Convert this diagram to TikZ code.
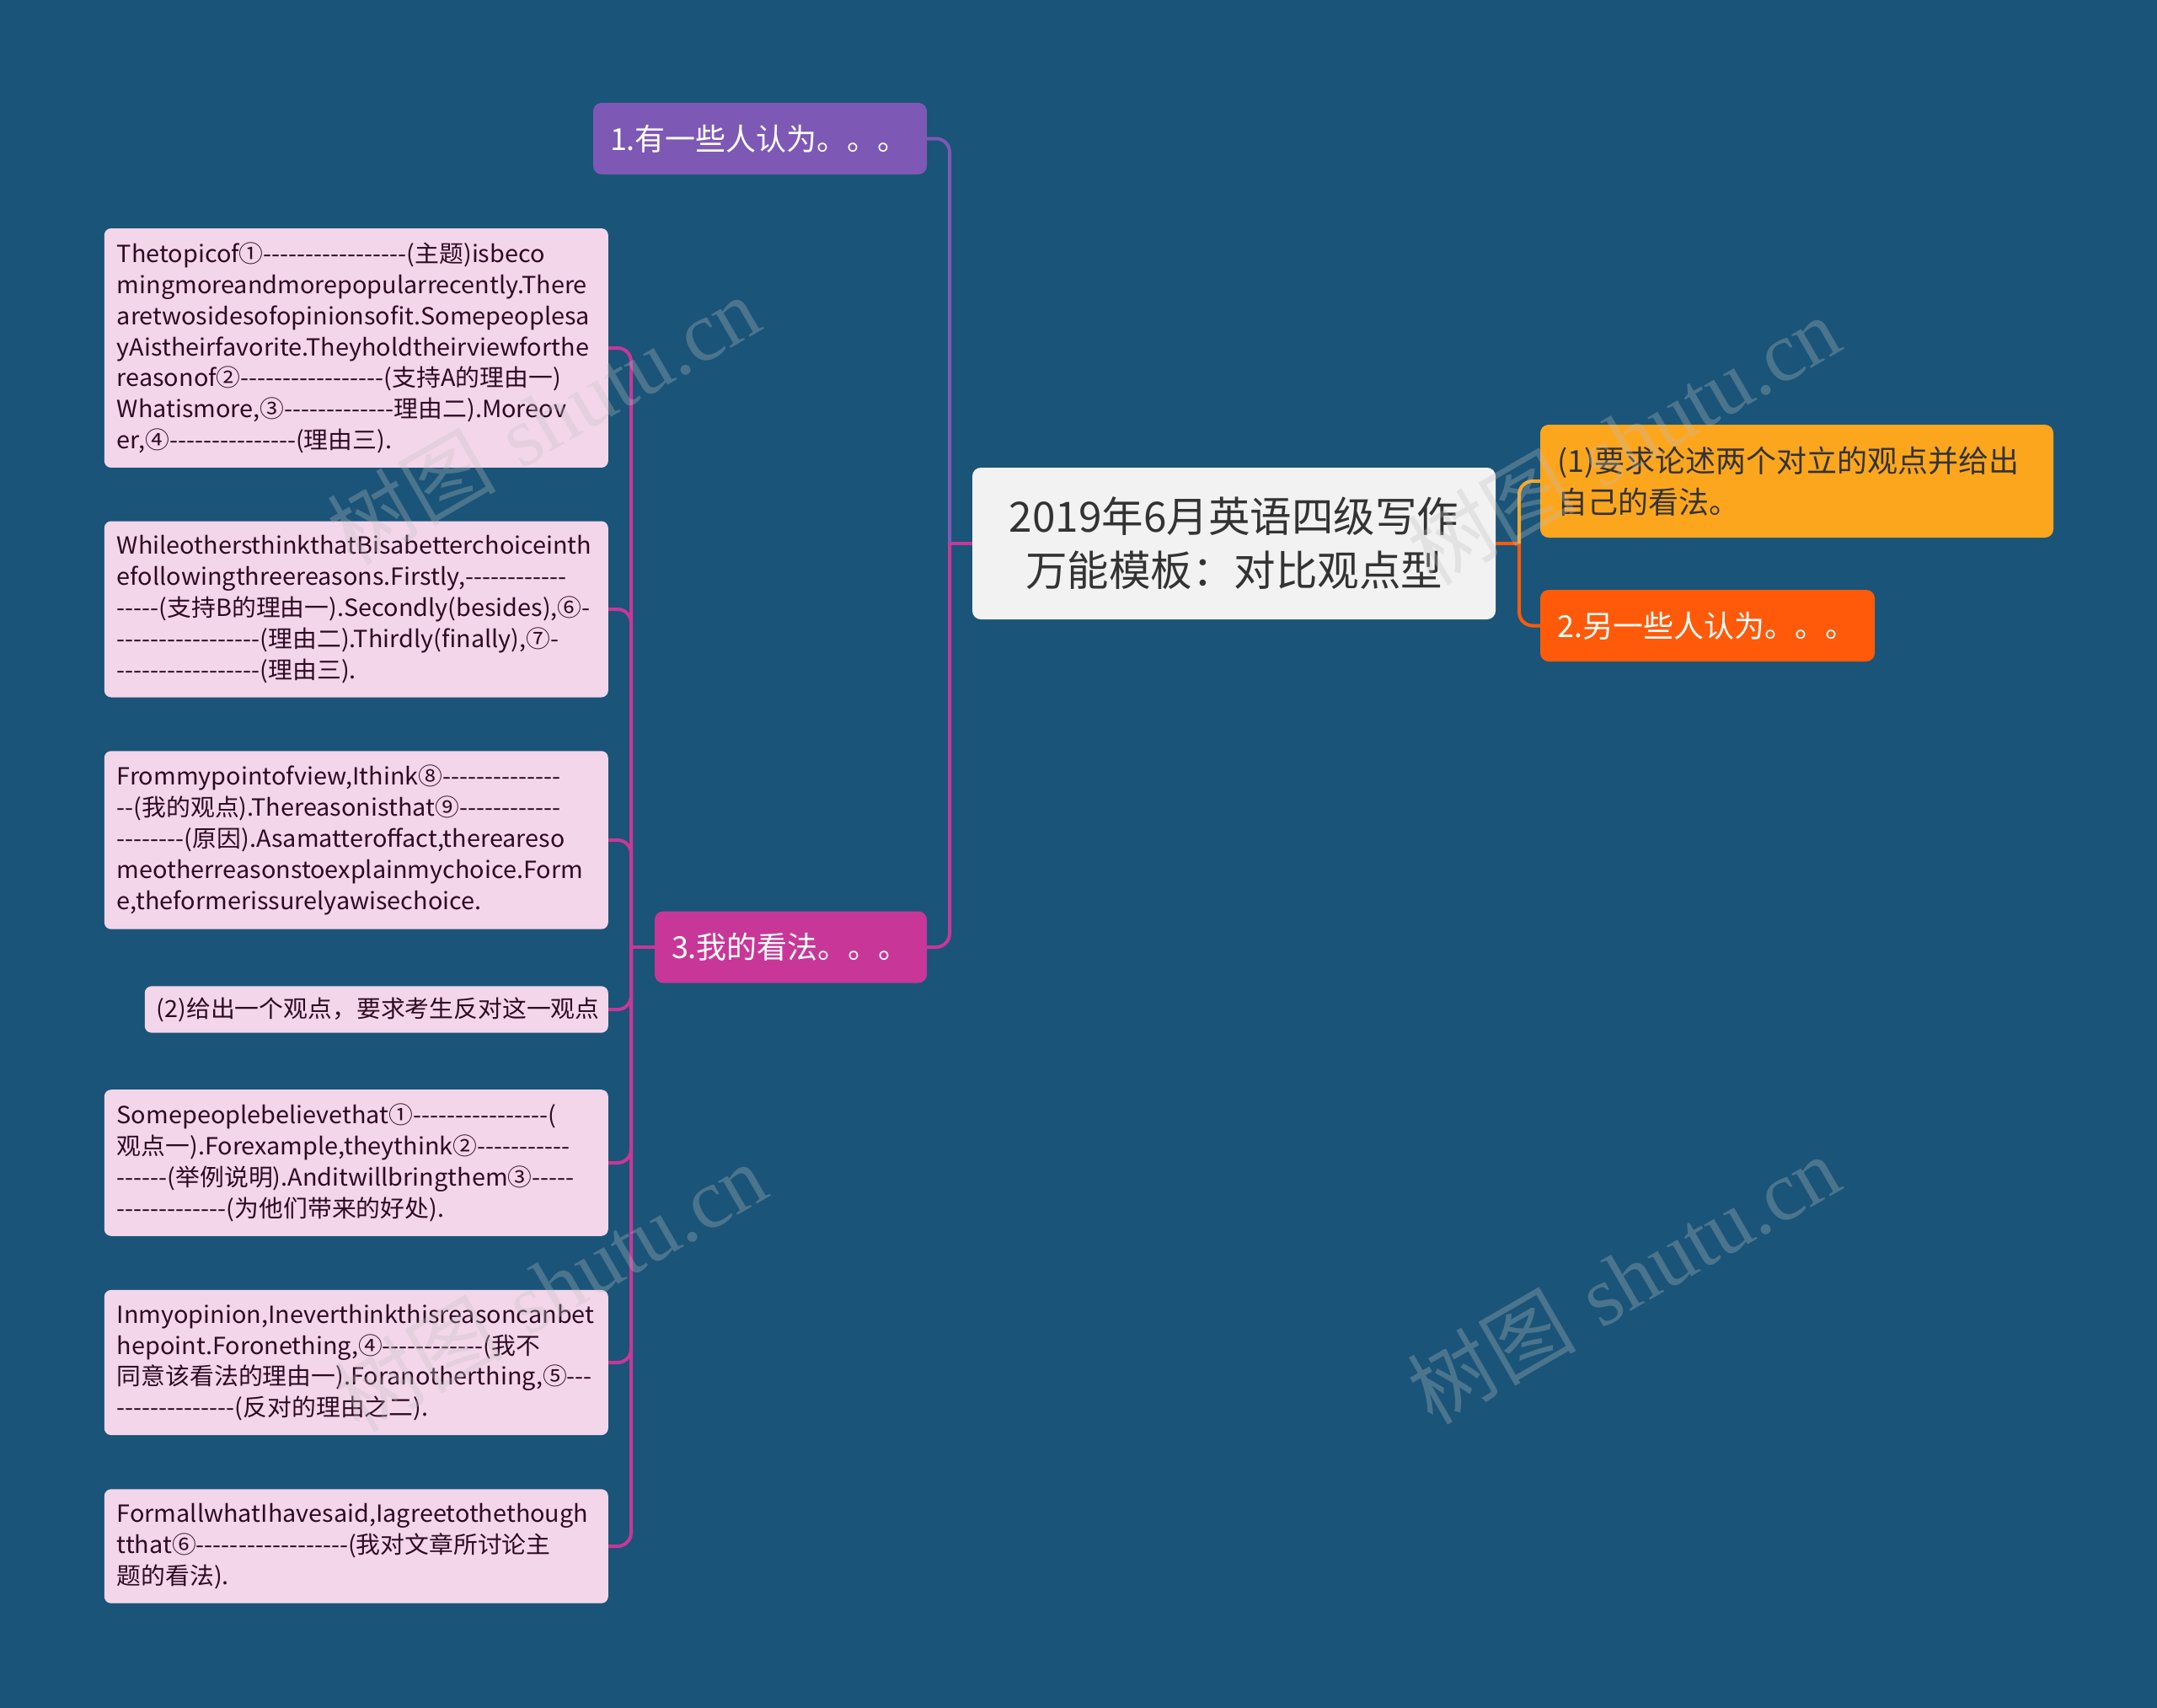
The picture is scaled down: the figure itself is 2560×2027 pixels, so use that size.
\documentclass[tikz,border=0pt]{standalone}
\usepackage{fontspec}
\newfontfamily\cjk{Noto Sans CJK SC}
\newfontfamily\cjkw[FakeStretch=1.03]{Noto Sans CJK SC}
\newfontfamily\wmserif{Liberation Serif}
\definecolor{bgc}{RGB}{26,84,120}
\definecolor{purpc}{RGB}{126,88,181}
\definecolor{magc}{RGB}{200,55,152}
\definecolor{pinkc}{RGB}{244,214,234}
\definecolor{pinktext}{RGB}{45,10,35}
\definecolor{centc}{RGB}{242,242,242}
\definecolor{darktext}{RGB}{51,51,51}
\definecolor{orac}{RGB}{252,166,30}
\definecolor{redc}{RGB}{254,90,10}
\tikzset{
  pinkbox/.style={fill=pinkc, rounded corners=8, text=pinktext,
    font={\cjkw\fontsize{28}{36.8}\selectfont\hyphenchar\font=-1\relax},
    align=left, inner xsep=15, inner ysep=17, anchor=east, text width=568},
  topicbox/.style={rounded corners=10, align=left, minimum height=85,
    inner xsep=20, font=\cjk\fontsize{36}{49}\selectfont},
  conn/.style={line width=4, rounded corners=16},
  wm/.style={text=gray!50!white, text opacity=0.3, rotate=30,
    font=\fontsize{100}{110}\selectfont}
}
\begin{document}
\begin{tikzpicture}[x=1pt,y=-1pt]
\fill[bgc] (0,0) rectangle (2560,2027);
\useasboundingbox (0,0) rectangle (2560,2027);

% central
\node[fill=centc, rounded corners=10, minimum width=621, minimum height=180,
  align=center, text=darktext, font=\cjk\fontsize{49.5}{64}\selectfont]
  (c) at (1464.5,645) {2019年6月英语四级写作\\万能模板：对比观点型};

% main branches
\node[topicbox, fill=purpc, text=white, text width=356] (n1) at (902,164.5)
  {1.有一些人认为。。。};
\node[topicbox, fill=magc, text=white, text width=283] (n3) at (938.5,1124)
  {3.我的看法。。。};
\node[topicbox, fill=orac, text=darktext, text width=569, minimum height=134]
  (o1) at (2132.5,571) {(1)要求论述两个对立的观点并给出\\自己的看法。};
\node[topicbox, fill=redc, text=white, text width=357] (o2) at (2026.5,742.5)
  {2.另一些人认为。。。};

% pink boxes
\node[pinkbox] (p1) at (722,413) {Thetopicof①-----------------(主题)isbeco\\
mingmoreandmorepopularrecently.There\\
aretwosidesofopinionsofit.Somepeoplesa\\
yAistheirfavorite.Theyholdtheirviewforthe\\
reasonof②-----------------(支持A的理由一)\\
Whatismore,③-------------理由二).Moreov\\
er,④---------------(理由三).};
\node[pinkbox] (p2) at (722,723) {WhileothersthinkthatBisabetterchoiceinth\\
efollowingthreereasons.Firstly,------------\\
-----(支持B的理由一).Secondly(besides),⑥-\\
-----------------(理由二).Thirdly(finally),⑦-\\
-----------------(理由三).};
\node[pinkbox] (p3) at (722,997) {Frommypointofview,Ithink⑧--------------\\
--(我的观点).Thereasonisthat⑨------------\\
--------(原因).Asamatteroffact,therearesο\\
meotherreasonstoexplainmychoice.Form\\
e,theformerissurelyawisechoice.};
\node[pinkbox, text width=522, inner xsep=14, inner ysep=13] (p4) at (722,1198)
  {(2)给出一个观点，要求考生反对这一观点};
\node[pinkbox] (p5) at (722,1380) {Somepeoplebelievethat①----------------(\\
观点一).Forexample,theythink②-----------\\
------(举例说明).Anditwillbringthem③-----\\
-------------(为他们带来的好处).};
\node[pinkbox] (p6) at (722,1617) {Inmyopinion,Ineverthinkthisreasoncanbet\\
hepoint.Foronething,④------------(我不\\
同意该看法的理由一).Foranotherthing,⑤---\\
--------------(反对的理由之二).};
\node[pinkbox] (p7) at (722,1835) {FormallwhatIhavesaid,Iagreetothethough\\
tthat⑥------------------(我对文章所讨论主\\
题的看法).};

% junctions
\coordinate (jl) at (1127,645);
\coordinate (jr) at (1803,645);
\coordinate (j3) at (749,1124);

% connectors
\draw[conn, magc] (c.west) -- (jl);
\draw[conn, purpc] (jl) |- (n1.east);
\draw[conn, magc] (jl) |- (n3.east);
\draw[conn, redc] (c.east) -- (jr);
\draw[conn, orac] (jr) |- (o1.west);
\draw[conn, redc] (jr) |- (o2.west);
\draw[conn, magc] (n3.west) -- (j3);
\foreach \p in {p1,p2,p3,p4,p5,p6,p7}{
  \draw[conn, magc] (j3) |- (\p.east);
}

% watermarks
\foreach \wx/\wy in {645/498, 1927/522, 653/1527, 1927/1518}{
  \node[wm] at (\wx,\wy) {{\cjk 树图} {\wmserif shutu.cn}};
}
\end{tikzpicture}
\end{document}
